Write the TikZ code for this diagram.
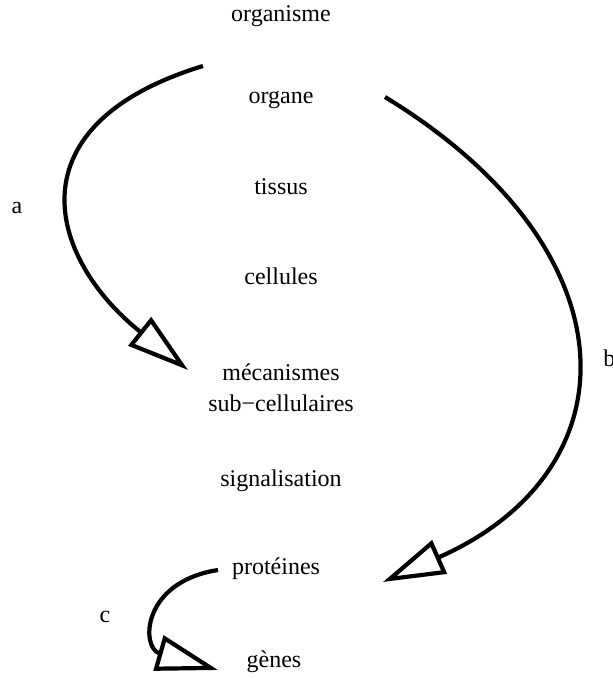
\documentclass[tikz,border=0pt]{standalone}
\usepackage{fontspec}
\setmainfont{Liberation Serif}
\usetikzlibrary{arrows.meta}
\begin{document}
\begin{tikzpicture}[x=0.5pt,y=-0.5pt,
  lbl/.style={font=\fontsize{12}{15.5}\selectfont, align=center, inner sep=0pt},
  conn/.style={line width=2.1pt, -{Triangle[open,length=31pt,width=18pt,line width=2.1pt]}}]
\useasboundingbox (0,0) rectangle (613,679);
\node[lbl] (organisme) at (281,16) {organisme};
\node[lbl] (organe) at (281,100) {organe};
\node[lbl] (tissus) at (281,187) {tissus};
\node[lbl] (cellules) at (281,276) {cellules};
\node[lbl] (meca) at (281,388) {mécanismes\\sub−cellulaires};
\node[lbl] (signal) at (281,481) {signalisation};
\node[lbl] (proteines) at (276,569) {protéines};
\node[lbl] (genes) at (274,662) {gènes};
\node[lbl] (la) at (17,208) {a};
\node[lbl, anchor=west] (lb) at (603,358) {b};
\node[lbl] (lc) at (105,617) {c};
\coordinate (a0) at (203,66);
\coordinate (a1) at (188,370);
\coordinate (b0) at (385,97);
\coordinate (b1) at (383,582);
\coordinate (c0) at (218,570);
\coordinate (c1) at (218,670);
\draw[conn] (a0) .. controls (10,125) and (48,258) .. (a1);
\draw[conn] (b0) .. controls (636,250) and (636,470) .. (b1);
\draw[conn] (c0) .. controls (141,582) and (141,648) .. (c1);
\end{tikzpicture}
\end{document}
